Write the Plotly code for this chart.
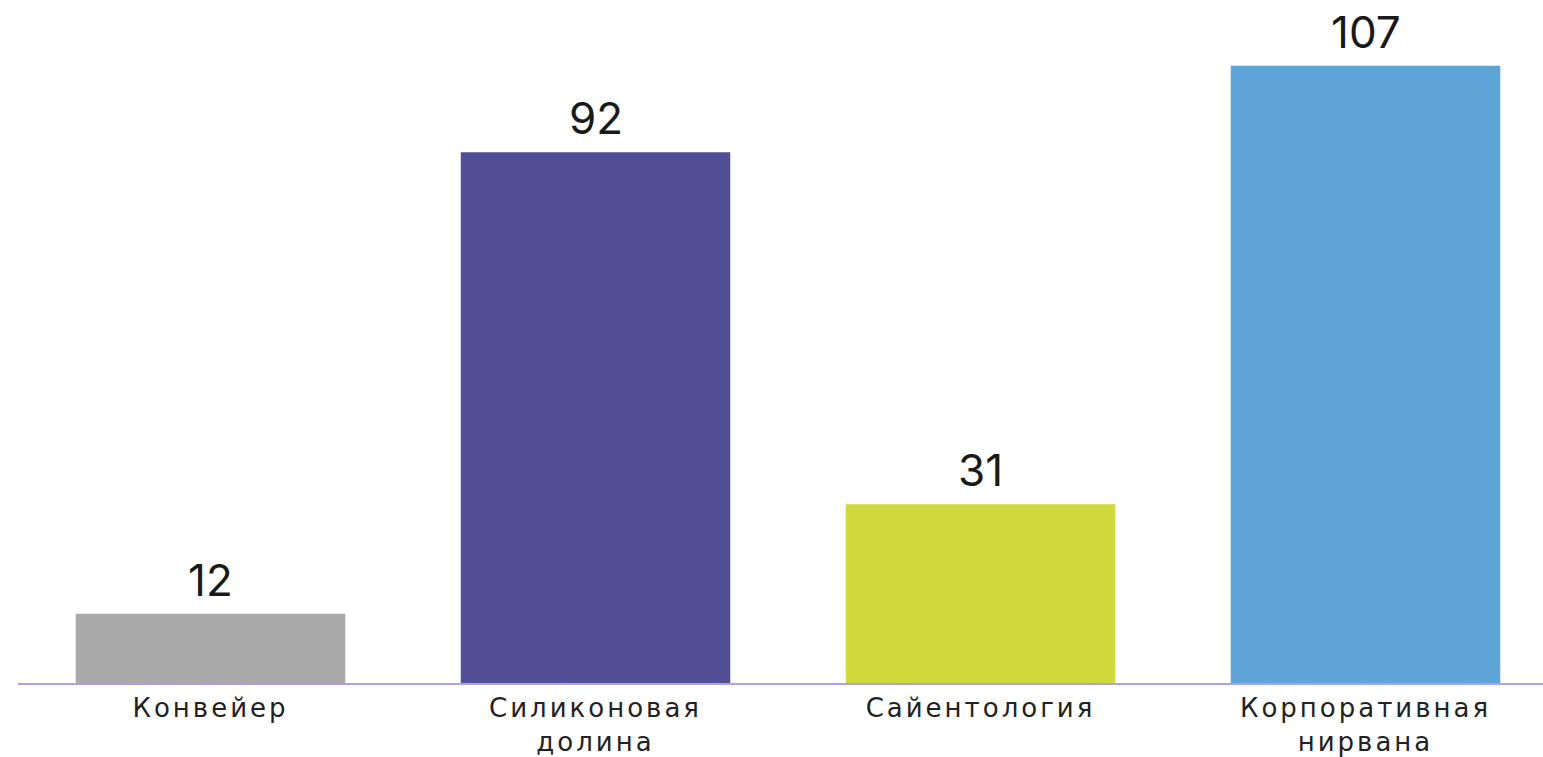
import plotly.graph_objects as go

categories = ["Конвейер", "Силиконовая<br>долина", "Сайентология", "Корпоративная<br>нирвана"]
values = [12, 92, 31, 107]
colors = ["#a9a9a9", "#524f96", "#d0d93c", "#5fa4d7"]

fig = go.Figure()
fig.add_trace(go.Bar(
    x=categories, y=values,
    marker=dict(color=colors, line=dict(width=0)),
    hoverinfo="skip",
))

for c, v in zip(categories, values):
    fig.add_annotation(
        x=c, y=v, text=str(v), showarrow=False,
        yanchor="bottom", yshift=5,
        font=dict(family="Inter", size=44, color="#1a1a1a"),
    )

fig.update_layout(
    width=1543, height=757,
    margin=dict(l=18, r=0, t=0, b=74),
    paper_bgcolor="white", plot_bgcolor="white",
    bargap=0.3,
    showlegend=False,
    xaxis=dict(
        type="category",
        range=[-0.5, 3.461],
        showline=True, linecolor="#aba3e6", linewidth=2,
        showgrid=False, zeroline=False,
        ticks="", ticklabelstandoff=1,
        tickfont=dict(family="DejaVu Sans", size=26, color="#222222"),
    ),
    yaxis=dict(
        range=[0, 118.4], visible=False, showgrid=False, zeroline=False,
    ),
)

post = """
var s = document.createElement('style');
s.innerHTML = 'body { margin: 0 !important; } .xtick text { letter-spacing: 3px; }';
document.head.appendChild(s);
"""

fig.write_html("out.html", post_script=post, config={"displayModeBar": False})
